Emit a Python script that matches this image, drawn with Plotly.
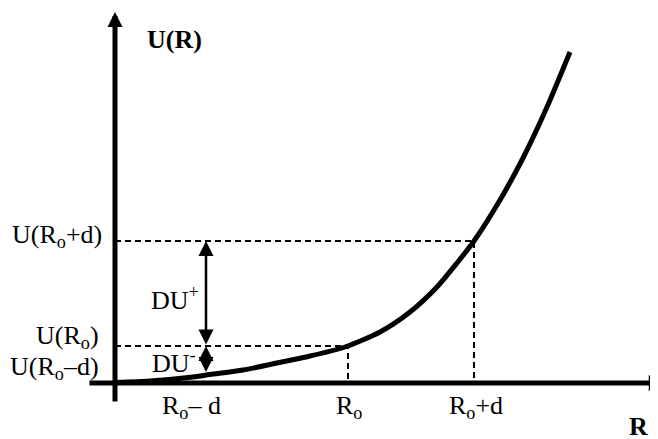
import plotly.graph_objects as go

# Potential-energy curve U(R) (schematic units)
curve_R = [0.0, 3.5, 7.8, 9.5, 12.8, 16.2, 19.5, 23.0, 26.5, 29.5, 32.2, 34.2,
           35.9, 38.5, 40.8, 43.2, 45.5]
curve_U = [0.05, 0.2, 0.6, 0.85, 1.3, 2.0, 2.7, 3.6, 5.1, 7.1, 9.6, 12.0,
           14.2, 18.3, 22.5, 27.6, 33.1]

# Marked positions: R0-d, R0, R0+d and their energies
mark_R = [9.1, 23.3, 35.9]
mark_U = [0.95, 3.7, 14.2]
R_labels = ["R<sub>o</sub>– d", "R<sub>o</sub>", "R<sub>o</sub>+d"]
U_labels = ["U(R<sub>o</sub>–d)", "U(R<sub>o</sub>)", "U(R<sub>o</sub>+d)"]
dU_labels = ["DU<sup>-</sup>", "DU<sup>+</sup>"]

# axis extents
R_axis = [-2.7, 54.2]
U_axis = [-2.0, 37.1]

FONT = "Liberation Serif, Times New Roman, serif"
FS = 26

fig = go.Figure()

# dashed guide lines for R0 and R0+d
for i in (1, 2):
    fig.add_trace(go.Scatter(
        x=[0, mark_R[i], mark_R[i]], y=[mark_U[i], mark_U[i], 0],
        mode="lines", line=dict(color="black", width=2, dash="6px,4px"),
        hoverinfo="skip", showlegend=False))

# curve
fig.add_trace(go.Scatter(
    x=curve_R, y=curve_U, mode="lines",
    line=dict(color="black", width=5, shape="spline", smoothing=0.7),
    hoverinfo="skip", showlegend=False))

ann = []
# y axis (arrow up)
ann.append(dict(x=0, y=U_axis[1], ax=0, ay=U_axis[0], xref="x", yref="y",
                axref="x", ayref="y", text="", showarrow=True,
                arrowhead=2, arrowwidth=5, arrowsize=0.6, arrowcolor="black"))
# x axis (arrow right)
ann.append(dict(x=R_axis[1], y=0, ax=R_axis[0], ay=0, xref="x", yref="y",
                axref="x", ayref="y", text="", showarrow=True,
                arrowhead=1, arrowwidth=5, arrowsize=0.55, arrowcolor="black"))
# DU+ and DU- double arrows
arrow_R = mark_R[0]
for (u0, u1) in [(mark_U[1], mark_U[2]), (mark_U[0], mark_U[1])]:
    ann.append(dict(x=arrow_R, y=u1, ax=arrow_R, ay=u0, xref="x", yref="y",
                    axref="x", ayref="y", text="", showarrow=True,
                    arrowhead=2, startarrowhead=2, arrowside="end+start",
                    arrowwidth=2.5, arrowsize=1.2, startarrowsize=1.2,
                    arrowcolor="black"))

def label(x, y, text, xanchor="center", height=None):
    d = dict(x=x, y=y, xref="x", yref="y", text=text, showarrow=False,
             xanchor=xanchor, yanchor="middle", borderpad=0,
             font=dict(family=FONT, size=FS, color="black"))
    if height:
        d["height"] = height
    ann.append(d)

# U labels on the left
U_label_pos = [(-1.5, 1.5), (-1.5, 4.6), (-1.2, 14.7)]
for (x, y), t in zip(U_label_pos, U_labels):
    label(x, y, t, xanchor="right")
# R labels under the axis
R_label_x = [7.6, 23.4, 36.1]
for x, t in zip(R_label_x, R_labels):
    label(x, -2.4, t)
# DU labels
label(8.2, 2.2, dU_labels[0], xanchor="right")
label(8.5, 8.5, dU_labels[1], xanchor="right")
# axis titles
label(5.9, 34.4, "<b>U(R)</b>")
label(52.3, -4.3, "<b>R</b>", height=20)

# the page body has an 8px margin, so the figure is drawn 8px in from the window edge
fig.update_layout(
    width=650, height=431,
    margin=dict(l=0, r=0, t=0, b=0),
    paper_bgcolor="white", plot_bgcolor="white",
    xaxis=dict(range=[-10.7, 54.3], visible=False, fixedrange=True),
    yaxis=dict(range=[-5.6, 37.5], visible=False, fixedrange=True),
    annotations=ann,
    showlegend=False,
)

fig.write_html("out.html")
